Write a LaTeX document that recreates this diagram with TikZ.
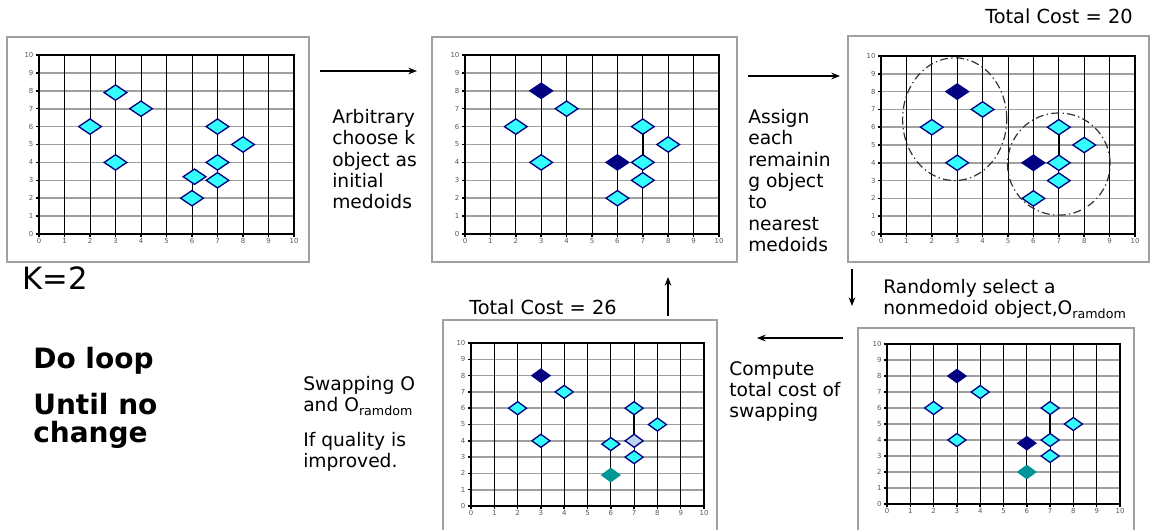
\documentclass[tikz,border=0pt]{standalone}
\usepackage{fontspec}
\setmainfont{DejaVu Sans}
\usetikzlibrary{shapes.geometric,arrows.meta}
\definecolor{navy}{RGB}{0,0,128}
\definecolor{cyanpt}{RGB}{51,255,255}
\definecolor{tealpt}{RGB}{0,150,150}
\definecolor{lightpt}{RGB}{185,212,236}
\definecolor{boxgray}{RGB}{160,160,160}
\definecolor{hgridc}{RGB}{160,160,160}
\definecolor{tickc}{RGB}{90,90,90}
\newcommand\plotgrid[1]{%
  \foreach \j in {1,...,10} \draw[hline] (0,\j) -- (10,\j);
  \foreach \i in {1,...,9} \draw[vline] (\i,0) -- (\i,10);
  \draw[frameline] (0,10) -- (10,10) -- (10,0);
  \draw[axisline] (0,10) -- (0,0) -- (10,0);
  \foreach \i in {0,...,10} {
    \draw[axisline] (\i,0) -- ++(0,-2pt);
    \draw[axisline] (0,\i) -- ++(-2pt,0);
    \node[ticklab,below=3pt] (#1x\i) at (\i,0) {\i};
    \node[ticklab,left=4pt] (#1y\i) at (0,\i) {\i};
  }%
}
\begin{document}
\begin{tikzpicture}[x=0.75pt,y=-0.75pt,
  panelbox/.style={draw=boxgray,line width=1pt},
  hline/.style={draw=hgridc,line width=1.2pt},
  vline/.style={draw=black,line width=0.6pt},
  frameline/.style={draw=black,line width=0.9pt},
  axisline/.style={draw=black,line width=1.1pt},
  ticklab/.style={font=\fontsize{5.2}{6}\selectfont,text=tickc,inner sep=0pt},
  dsz/.style={minimum width=17pt,minimum height=11.5pt},
  pt/.style={diamond,draw=navy,fill=cyanpt,line width=1pt,inner sep=0pt,outer sep=0pt,dsz},
  med/.style={pt,fill=navy},
  tealp/.style={pt,fill=tealpt,draw=tealpt},
  lightp/.style={pt,fill=lightpt},
  link/.style={draw=black,line width=1.5pt},
  cluster/.style={draw=black!80,line width=0.9pt,dash pattern=on 6pt off 2.5pt on 1pt off 2.5pt},
  arr/.style={-{Stealth[length=6.5pt,width=5pt]},line width=0.9pt},
  txt/.style={font=\fontsize{14}{16}\selectfont,align=left,inner sep=0pt,anchor=north west},
  stxt/.style={font=\fontsize{14}{16}\selectfont,inner sep=0pt,anchor=base west},
  btxt/.style={font=\fontsize{21}{21}\selectfont\bfseries,align=left,inner sep=0pt},
]
\fill[white] (0,0) rectangle (1151,529);
\useasboundingbox (0,0) rectangle (1151,529);

% panel frames
\draw[panelbox] (7,37) rectangle (309,262);
\draw[panelbox] (432,37) rectangle (737,262);
\draw[panelbox] (848,36) rectangle (1149,262);
\draw[panelbox] (443,545) |- (717,320) -- (717,545);
\draw[panelbox] (858,545) |- (1134,328) -- (1134,545);

% panel 1
\begin{scope}[shift={(39,234)},x=19.125pt,y=13.425pt]
  \plotgrid{a}
  \foreach \px/\py [count=\k] in {3/7.9,4/7,2/6,3/4,7/6,8/5,7/4,6.1/3.2,7/3,6/2}
    \node[pt] (a\k) at (\px,\py) {};
\end{scope}

% panel 2
\begin{scope}[shift={(465,234)},x=19.05pt,y=13.425pt]
  \plotgrid{b}
  \node[med] (bm1) at (3,8) {};
  \node[med] (bm2) at (6,4) {};
  \foreach \px/\py [count=\k] in {4/7,2/6,3/4,7/6,8/5,7/4,7/3,6/2}
    \node[pt] (b\k) at (\px,\py) {};
  \draw[link] (b4) -- (b6);
\end{scope}

% panel 3
\begin{scope}[shift={(881,234)},x=19.05pt,y=13.35pt]
  \plotgrid{c}
  \node[med] (cm1) at (3,8) {};
  \node[med] (cm2) at (6,4) {};
  \foreach \px/\py [count=\k] in {4/7,2/6,3/4,7/6,8/5,7/4,7/3,6/2}
    \node[pt] (c\k) at (\px,\py) {};
  \draw[link] (c4) -- (c6);
  \draw[cluster] (2.9,6.45) ellipse [x radius=2.05, y radius=3.45];
  \draw[cluster] (7.0,3.93) ellipse [x radius=2.02, y radius=2.87];
\end{scope}

% panel 4
\begin{scope}[shift={(471,506)},x=17.475pt,y=12.225pt,
  dsz/.style={minimum width=13.5pt,minimum height=9.8pt}]
  \plotgrid{d}
  \node[med] (dm1) at (3,8) {};
  \foreach \px/\py [count=\k] in {4/7,2/6,3/4,7/6,8/5,6/3.8,7/3}
    \node[pt] (d\k) at (\px,\py) {};
  \node[lightp] (dl) at (7,4) {};
  \node[tealp] (dt) at (6,1.9) {};
  \draw[link] (d4) -- (dl);
\end{scope}

% panel 5
\begin{scope}[shift={(887,504)},x=17.475pt,y=12pt,
  dsz/.style={minimum width=13.5pt,minimum height=9.8pt}]
  \plotgrid{e}
  \node[med] (em1) at (3,8) {};
  \node[med] (em2) at (6,3.8) {};
  \foreach \px/\py [count=\k] in {4/7,2/6,3/4,7/6,8/5,7/4,7/3}
    \node[pt] (e\k) at (\px,\py) {};
  \node[tealp] (et) at (6,2) {};
  \draw[link] (e4) -- (e6);
\end{scope}

% arrows
\coordinate (a1s) at (320,71);  \coordinate (a1e) at (417,71);
\coordinate (a2s) at (748,76);  \coordinate (a2e) at (840,76);
\coordinate (a3s) at (852,269); \coordinate (a3e) at (852,306);
\coordinate (a4s) at (843,338); \coordinate (a4e) at (757,338);
\coordinate (a5s) at (668,316); \coordinate (a5e) at (668,277);
\draw[arr] (a1s) -- (a1e);
\draw[arr] (a2s) -- (a2e);
\draw[arr] (a3s) -- (a3e);
\draw[arr] (a4s) -- (a4e);
\draw[arr] (a5s) -- (a5e);

% texts
\node[txt] (t1) at (332,109) {Arbitrary\\choose k\\object as\\initial\\medoids};
\node[txt] (t2) at (748,109) {Assign\\each\\remainin\\g object\\to\\nearest\\medoids};
\node[stxt,font=\fontsize{14.5}{16}\selectfont] (t3) at (985,23) {Total Cost = 20};
\node[txt] (t4) at (883,279) {Randomly select a\\nonmedoid object,O\raisebox{-2.5pt}{\fontsize{9.5}{9.5}\selectfont ramdom}};
\node[txt] (t5) at (729,361) {Compute\\total cost of\\swapping};
\node[stxt,font=\fontsize{14.5}{16}\selectfont] (t6) at (469,314) {Total Cost = 26};
\node[txt] (t7) at (303,376) {Swapping O\\and O\raisebox{-2.5pt}{\fontsize{9.5}{9.5}\selectfont ramdom}};
\node[txt] (t8) at (303,432) {If quality is\\improved.};
\node[stxt,font=\fontsize{23}{26}\selectfont] (k) at (22,289) {K=2};
\node[btxt,anchor=base west] (dl1) at (33,368) {Do loop};
\node[btxt,anchor=north west] (dl2) at (33,393) {Until no\\change};
\end{tikzpicture}
\end{document}
